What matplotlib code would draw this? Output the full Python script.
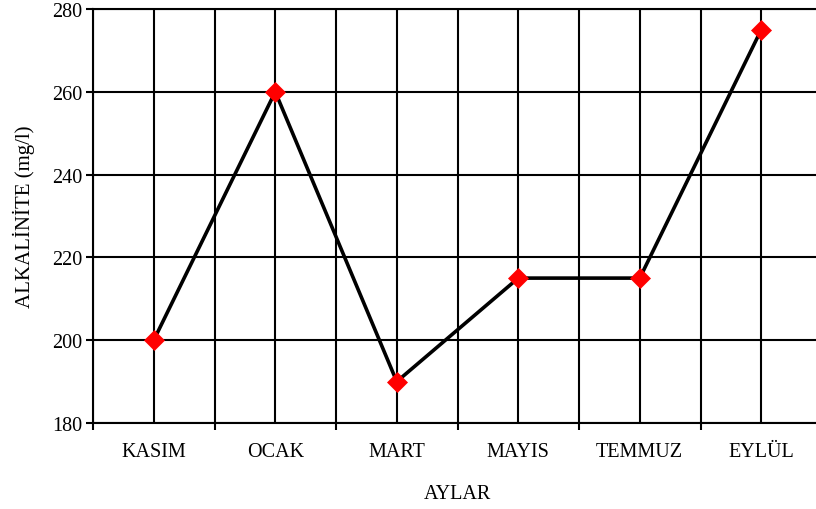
import numpy as np
import matplotlib.pyplot as plt
from matplotlib.ticker import FixedLocator, NullFormatter

plt.rcParams['font.family'] = ['Liberation Serif', 'DejaVu Serif']

# data
months = ['KASIM', 'OCAK', 'MART', 'MAYIS', 'TEMMUZ', 'EYLÜL']
alkalinite = [200, 260, 190, 215, 215, 275]

x = np.arange(len(months))

fig = plt.figure(figsize=(8.16, 5.10), dpi=100)
ax = fig.add_axes([93/816, 1 - 424/510, 729/816, 414/510])

ax.plot(x, alkalinite, color='black', linewidth=2.6, zorder=3,
        marker='D', markersize=10.5, markerfacecolor='red', markeredgecolor='red',
        markeredgewidth=0.5)

ax.set_xlim(-0.5, 5.5)
ax.set_ylim(180, 280)
ax.set_yticks(np.arange(180, 281, 20))

# boundaries as major ticks, categories as minor ticks with labels
ax.xaxis.set_major_locator(FixedLocator(np.arange(-0.5, 6, 1)))
ax.xaxis.set_major_formatter(NullFormatter())
ax.xaxis.set_minor_locator(FixedLocator(x))
ax.set_xticklabels(months, minor=True)

ax.tick_params(axis='x', which='major', direction='out', length=5, width=1.5)
ax.tick_params(axis='x', which='minor', length=0, pad=14, labelsize=14.5)
ax.tick_params(axis='y', direction='out', length=5, width=1.5, labelsize=14.5, pad=3)

ax.grid(True, which='both', axis='x', color='black', linewidth=1.5)
ax.grid(True, which='major', axis='y', color='black', linewidth=1.5)
ax.set_axisbelow(True)

for sp in ax.spines.values():
    sp.set_linewidth(1.5)

ax.set_xlabel('AYLAR', fontsize=14.5, labelpad=16)
ax.set_ylabel('ALKALİNİTE (mg/l)', fontsize=15, labelpad=12)

fig.savefig('out.png', dpi=100)
